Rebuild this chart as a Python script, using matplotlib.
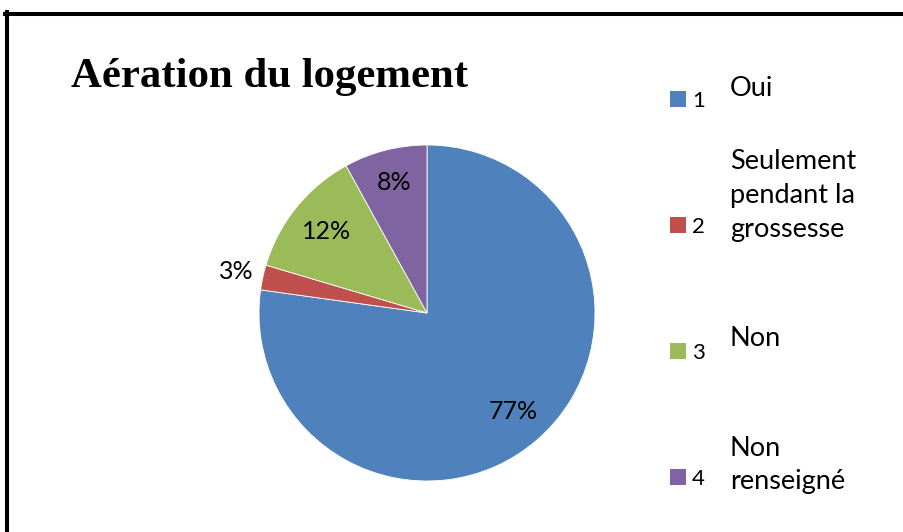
import matplotlib
matplotlib.use("Agg")
import matplotlib.pyplot as plt
from matplotlib.lines import Line2D
from matplotlib.patches import Rectangle
import numpy as np

# ---- data ----
title = "Aération du logement"
codes = ["1", "2", "3", "4"]
labels = ["Oui", "Seulement\npendant la\ngrossesse", "Non", "Non\nrenseigné"]
values = [77.2, 2.4, 12.4, 8.0]
pct_labels = ["77%", "3%", "12%", "8%"]
colors = ["#4F81BD", "#C0504D", "#9BBB59", "#8064A2"]

W, H = 904, 532
fig = plt.figure(figsize=(W / 100, H / 100), dpi=100)

def fx(px):
    return px / W

def fy(py):
    return 1 - py / H

# frame
fig.add_artist(Line2D([fx(7), fx(7)], [fy(12), fy(540)], color="black", lw=2.9,
                      transform=fig.transFigure, solid_capstyle="projecting"))
fig.add_artist(Line2D([fx(5), fx(910)], [fy(14), fy(14)], color="black", lw=2.9,
                      transform=fig.transFigure, solid_capstyle="projecting"))

# title
fig.text(fx(71), fy(87), title, fontsize=30.8, fontweight="bold",
         family="Liberation Serif", ha="left", va="baseline")

# pie
cx, cy, R = 427, 313, 168
ax = fig.add_axes([fx(cx - R), fy(cy + R), 2 * R / W, 2 * R / H])
wedges, _ = ax.pie(values, colors=colors, startangle=90, counterclock=False,
                   wedgeprops=dict(edgecolor="white", linewidth=0.6))
ax.set_xlim(-1, 1)
ax.set_ylim(-1, 1)
ax.set_aspect("auto")
ax.axis("off")

label_dist = [0.78, 1.16, 0.77, 0.80]
for w, t, d in zip(wedges, pct_labels, label_dist):
    ang = np.deg2rad((w.theta1 + w.theta2) / 2)
    ax.text(d * np.cos(ang), d * np.sin(ang), t, ha="center", va="center",
            fontsize=18, family="Lato", color="black")

# legend
text_center = [88, 195, 338, 465]
for i, (c, code, lab) in enumerate(zip(colors, codes, labels)):
    sy = 99 + 126 * i
    fig.add_artist(Rectangle((fx(670), fy(sy + 8)), 16 / W, 16 / H,
                             transform=fig.transFigure, facecolor=c, edgecolor="none"))
    fig.text(fx(692), fy(sy + 8), code, fontsize=16, family="Lato",
             ha="left", va="baseline")
    fig.text(fx(730), fy(text_center[i]), lab, fontsize=19.5, family="Lato",
             ha="left", va="center", linespacing=1.45)

fig.savefig("out.png", dpi=100)
